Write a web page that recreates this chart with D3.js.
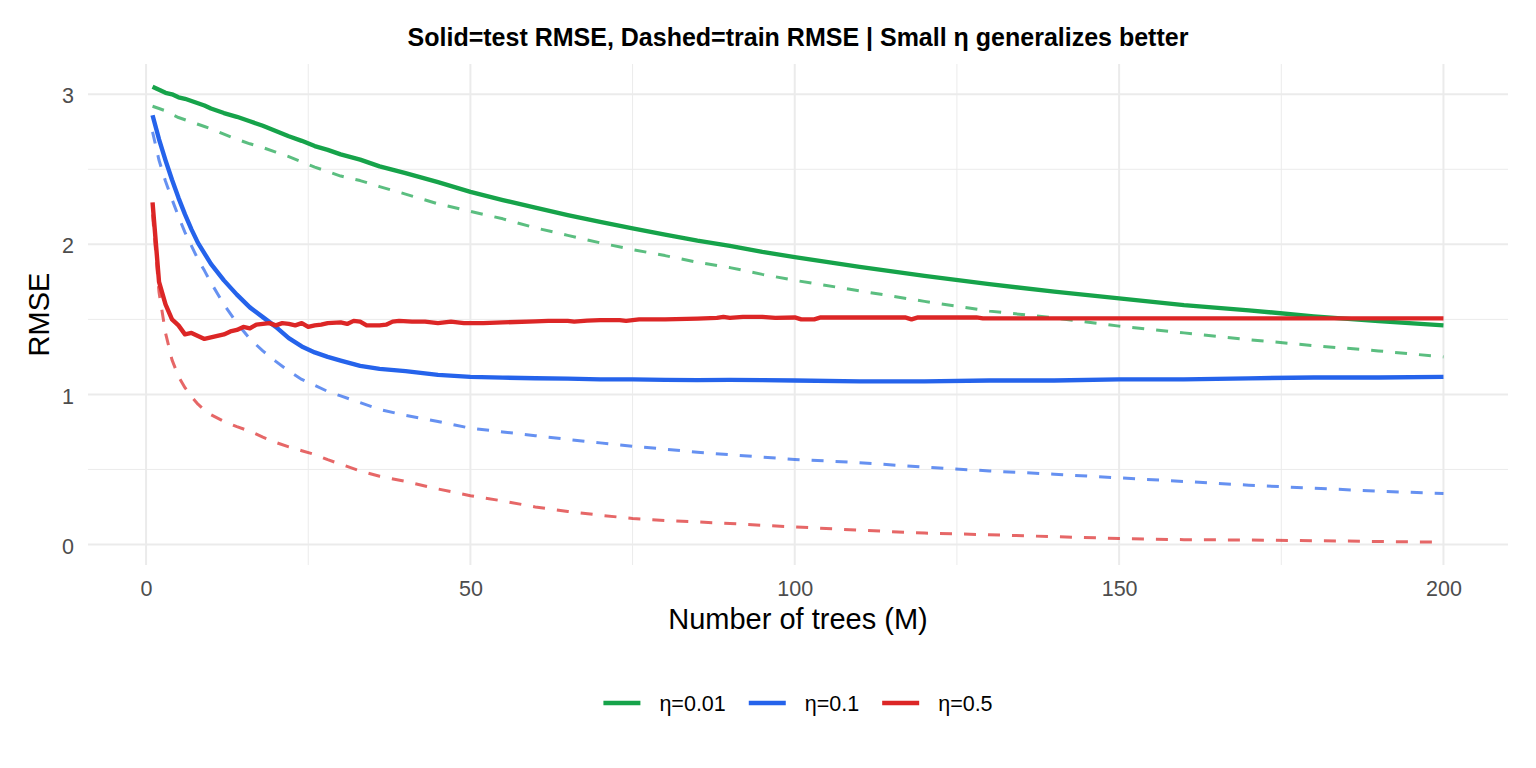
<!DOCTYPE html>
<html>
<head>
<meta charset="utf-8">
<script src="https://cdn.jsdelivr.net/npm/d3@7"></script>
<style>
  body { margin: 0; background: #fff; }
  svg { display: block; font-family: "Liberation Sans", Arial, sans-serif; }
</style>
</head>
<body>
<div id="chart"></div>
<script>
var treesGrid = [1,2,3,4,5,6,7,8,9,10,12,14,16,18,20,22,24,26,28,30,33,36,40,45,50,55,60,65,70,75,80,85,90,95,100,110,120,130,140,150,160,170,180,190,200];

// eta = 0.01
var testSlow  = [3.05,3.03,3.01,3.00,2.98,2.97,2.955,2.94,2.925,2.905,2.875,2.85,2.82,2.79,2.755,2.72,2.69,2.655,2.63,2.60,2.565,2.52,2.475,2.415,2.35,2.295,2.245,2.195,2.15,2.107,2.065,2.025,1.99,1.95,1.915,1.85,1.79,1.735,1.685,1.64,1.595,1.56,1.52,1.488,1.46];
var trainSlow = [2.92,2.905,2.89,2.865,2.845,2.83,2.815,2.80,2.785,2.77,2.735,2.70,2.67,2.645,2.615,2.585,2.55,2.515,2.485,2.455,2.425,2.385,2.335,2.27,2.22,2.17,2.11,2.06,2.01,1.965,1.925,1.88,1.845,1.80,1.76,1.69,1.62,1.555,1.51,1.455,1.41,1.365,1.325,1.29,1.25];

// eta = 0.1
var testMid  = [2.86,2.70,2.56,2.43,2.31,2.20,2.10,2.01,1.94,1.87,1.76,1.665,1.58,1.515,1.45,1.375,1.32,1.28,1.25,1.225,1.19,1.17,1.155,1.13,1.117,1.112,1.108,1.105,1.10,1.10,1.097,1.095,1.097,1.095,1.093,1.087,1.087,1.093,1.093,1.10,1.10,1.107,1.113,1.113,1.117];
var trainMid = [2.75,2.56,2.42,2.30,2.185,2.08,1.99,1.90,1.825,1.745,1.60,1.475,1.37,1.29,1.22,1.155,1.10,1.06,1.02,0.99,0.945,0.90,0.86,0.82,0.775,0.75,0.725,0.70,0.677,0.655,0.635,0.615,0.598,0.582,0.567,0.545,0.515,0.49,0.468,0.444,0.42,0.395,0.375,0.355,0.34];

// eta = 0.5 (test curve is wiggly, so it has its own tree counts)
var treesFastTest = [1,2,3,4,5,6,7,8,9,10,11,12,13,14,15,16,17,18,19,20,21,22,23,24,25,26,27,28,30,31,32,33,34,36,37,38,39,41,43,45,47,49,52,55,60,62,65,66,68,70,73,74,76,80,85,88,89,90,92,95,97,100,101,103,104,117,118,119,128,129,200];
var testFast = [2.28,1.75,1.60,1.50,1.46,1.40,1.41,1.39,1.37,1.38,1.39,1.40,1.42,1.43,1.45,1.44,1.465,1.47,1.475,1.46,1.475,1.47,1.46,1.475,1.45,1.46,1.465,1.475,1.48,1.47,1.49,1.485,1.46,1.46,1.465,1.485,1.49,1.485,1.485,1.475,1.485,1.475,1.475,1.48,1.487,1.49,1.49,1.485,1.492,1.495,1.495,1.49,1.50,1.50,1.505,1.51,1.517,1.51,1.517,1.517,1.51,1.513,1.50,1.50,1.513,1.513,1.50,1.513,1.513,1.507,1.507];
var trainFast = [2.20,1.68,1.41,1.23,1.12,1.045,0.985,0.935,0.895,0.865,0.82,0.785,0.755,0.715,0.68,0.65,0.625,0.60,0.565,0.535,0.49,0.455,0.42,0.37,0.325,0.29,0.25,0.22,0.195,0.173,0.16,0.15,0.14,0.128,0.117,0.095,0.076,0.065,0.052,0.04,0.032,0.03,0.025,0.02,0.015];

var etaLabels = ["η=0.01", "η=0.1", "η=0.5"];
var etaColors = ["#16a34a", "#2563eb", "#dc2626"];
var xTicks = [0, 50, 100, 150, 200];
var xMinor = [25, 75, 125, 175];
var yTicks = [0, 1, 2, 3];
var yMinor = [0.5, 1.5, 2.5];

var W = 1536, H = 768;
var panel = {left: 88, right: 1508, top: 64, bottom: 565};

var series = [
  {trees: treesGrid, vals: trainSlow, eta: 0, dashed: true},
  {trees: treesGrid, vals: trainMid, eta: 1, dashed: true},
  {trees: treesGrid, vals: trainFast, eta: 2, dashed: true},
  {trees: treesGrid, vals: testSlow, eta: 0, dashed: false},
  {trees: treesGrid, vals: testMid, eta: 1, dashed: false},
  {trees: treesFastTest, vals: testFast, eta: 2, dashed: false}
];

// ggplot style 5% expansion
var allT = treesGrid.concat(treesFastTest);
var allV = [].concat(testSlow, trainSlow, testMid, trainMid, testFast, trainFast);
var tExt = d3.extent(allT), vExt = d3.extent(allV);
var tPad = (tExt[1] - tExt[0]) * 0.05, vPad = (vExt[1] - vExt[0]) * 0.05;

var x = d3.scaleLinear().domain([tExt[0] - tPad, tExt[1] + tPad]).range([panel.left, panel.right]);
var y = d3.scaleLinear().domain([vExt[0] - vPad, vExt[1] + vPad]).range([panel.bottom, panel.top]);

var svg = d3.select("#chart").append("svg")
  .attr("width", W)
  .attr("height", H);

svg.append("rect").attr("width", W).attr("height", H).attr("fill", "#fff");

// grid
var grid = svg.append("g").attr("stroke", "#ebebeb");
grid.selectAll(".ymin").data(yMinor).enter().append("line")
  .attr("x1", panel.left).attr("x2", panel.right)
  .attr("y1", d => y(d)).attr("y2", d => y(d))
  .attr("stroke-width", 1);
grid.selectAll(".xmin").data(xMinor).enter().append("line")
  .attr("y1", panel.top).attr("y2", panel.bottom)
  .attr("x1", d => x(d)).attr("x2", d => x(d))
  .attr("stroke-width", 1);
grid.selectAll(".ymaj").data(yTicks).enter().append("line")
  .attr("x1", panel.left).attr("x2", panel.right)
  .attr("y1", d => y(d)).attr("y2", d => y(d))
  .attr("stroke-width", 2);
grid.selectAll(".xmaj").data(xTicks).enter().append("line")
  .attr("y1", panel.top).attr("y2", panel.bottom)
  .attr("x1", d => x(d)).attr("x2", d => x(d))
  .attr("stroke-width", 2);

// lines
var line = d3.line()
  .x(d => x(d[0]))
  .y(d => y(d[1]));

svg.append("g").selectAll("path")
  .data(series)
  .enter().append("path")
  .attr("d", s => line(s.trees.map((t, i) => [t, s.vals[i]])))
  .attr("fill", "none")
  .attr("stroke", s => etaColors[s.eta])
  .attr("stroke-opacity", s => s.dashed ? 0.7 : 1)
  .attr("stroke-width", s => s.dashed ? 3 : 4.4)
  .attr("stroke-dasharray", s => s.dashed ? "12,12" : null)
  .attr("stroke-linejoin", "round");

// axes (labels only, theme_minimal)
var xAxis = d3.axisBottom(x).tickValues(xTicks).tickSize(0).tickPadding(0).tickFormat(d3.format("d"));
var gx = svg.append("g")
  .attr("transform", "translate(0," + (panel.bottom + 16) + ")")
  .call(xAxis);
gx.select(".domain").remove();
gx.selectAll("text")
  .attr("dy", "0.71em")
  .style("font-size", "21.5px")
  .style("font-family", "'Liberation Sans', Arial, sans-serif")
  .attr("fill", "#4d4d4d");

var yAxis = d3.axisLeft(y).tickValues(yTicks).tickSize(0).tickPadding(0).tickFormat(d3.format("d"));
var gy = svg.append("g")
  .attr("transform", "translate(" + (panel.left - 14) + ",0)")
  .call(yAxis);
gy.select(".domain").remove();
gy.selectAll("text")
  .attr("dy", "0.4em")
  .style("font-size", "21.5px")
  .style("font-family", "'Liberation Sans', Arial, sans-serif")
  .attr("fill", "#4d4d4d");

// titles
svg.append("text")
  .attr("x", (panel.left + panel.right) / 2)
  .attr("y", 629)
  .attr("text-anchor", "middle")
  .style("font-size", "29px")
  .text("Number of trees (M)");

svg.append("text")
  .attr("transform", "translate(49," + ((panel.top + panel.bottom) / 2) + ") rotate(-90)")
  .attr("text-anchor", "middle")
  .style("font-size", "29px")
  .text("RMSE");

svg.append("text")
  .attr("x", (panel.left + panel.right) / 2)
  .attr("y", 46)
  .attr("text-anchor", "middle")
  .style("font-size", "25px")
  .style("font-weight", "bold")
  .text("Solid=test RMSE, Dashed=train RMSE | Small η generalizes better");

// legend, centred under the panel
var legend = svg.append("g").attr("class", "legend");
var items = legend.selectAll("g").data(etaLabels).enter().append("g");
items.append("line")
  .attr("x1", 0).attr("x2", 37)
  .attr("y1", 0).attr("y2", 0)
  .attr("stroke", (d, i) => etaColors[i])
  .attr("stroke-width", 4.4);
items.append("text")
  .attr("x", 56)
  .attr("dy", "0.36em")
  .style("font-size", "21.5px")
  .text(d => d);

var offset = 0;
items.each(function() {
  var w = 56 + d3.select(this).select("text").node().getComputedTextLength();
  d3.select(this).attr("transform", "translate(" + offset + ",0)");
  offset += w + 23;
});
var legendWidth = offset - 23;
legend.attr("transform", "translate(" + ((panel.left + panel.right) / 2 - legendWidth / 2) + ",703)");
</script>
</body>
</html>
